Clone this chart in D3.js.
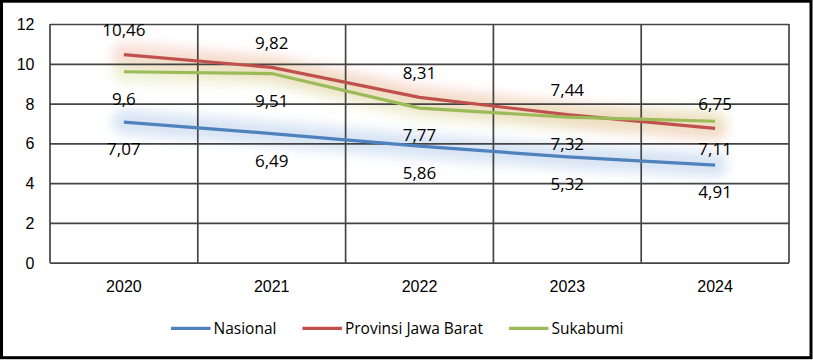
<!DOCTYPE html>
<html>
<head>
<meta charset="utf-8">
<script src="https://cdn.jsdelivr.net/npm/d3@7/dist/d3.min.js"></script>
<style>
  html, body { margin: 0; padding: 0; background: #fff; }
  svg { display: block; font-family: "Open Sans", "Noto Sans", sans-serif; }
</style>
</head>
<body>
<svg id="chart" width="813" height="360"></svg>
<script>
const years = ["2020", "2021", "2022", "2023", "2024"];
const nasional = [7.07, 6.49, 5.86, 5.32, 4.91];
const jawaBarat = [10.46, 9.82, 8.31, 7.44, 6.75];
const sukabumi = [9.6, 9.51, 7.77, 7.32, 7.11];
const seriesNames = ["Nasional", "Provinsi Jawa Barat", "Sukabumi"];
const yTicks = [0, 2, 4, 6, 8, 10, 12];
const valueLabels = {
  "Nasional": ["7,07", "6,49", "5,86", "5,32", "4,91"],
  "Provinsi Jawa Barat": ["10,46", "9,82", "8,31", "7,44", "6,75"],
  "Sukabumi": ["9,6", "9,51", "7,77", "7,32", "7,11"]
};

const series = [
  { name: seriesNames[0], values: nasional, color: "#4f81bd", glow: "#8fb3e0", labelDy: 27.3 },
  { name: seriesNames[1], values: jawaBarat, color: "#c0504d", glow: "#eea08c", labelDy: -24.6 },
  { name: seriesNames[2], values: sukabumi, color: "#9bbb59", glow: "#d8e09a", labelDy: 27.3 }
];

const svg = d3.select("#chart");
const pLeft = 50, pRight = 789, pTop = 24, pBottom = 262.7;

const x = d3.scaleBand().domain(years).range([pLeft, pRight]).padding(0);
const y = d3.scaleLinear().domain([0, 12]).range([pBottom, pTop]);
const cx = d => x(d) + x.bandwidth() / 2;

// outer border
svg.append("rect").attr("x", 1.5).attr("y", 1.2).attr("width", 809.5).attr("height", 356.5)
  .attr("fill", "#fff").attr("stroke", "#000").attr("stroke-width", 3);

// glow filter
const defs = svg.append("defs");
const f = defs.append("filter").attr("id", "glow").attr("x", "-20%").attr("y", "-100%")
  .attr("width", "140%").attr("height", "300%");
f.append("feGaussianBlur").attr("stdDeviation", 6);

const line = d3.line().x((d, i) => cx(years[i])).y(d => y(d)).curve(d3.curveLinear);

// glows
const glowG = svg.append("g");
series.forEach(s => {
  glowG.append("path").datum(s.values).attr("d", line)
    .attr("fill", "none").attr("stroke", s.glow).attr("stroke-width", 24)
    .attr("stroke-linecap", "round").attr("stroke-linejoin", "round")
    .attr("opacity", 0.35).attr("filter", "url(#glow)");
});

// horizontal gridlines via axis
const yAxis = d3.axisLeft(y).tickValues(yTicks).tickSize(-(pRight - pLeft)).tickPadding(16)
  .tickFormat(d3.format("d"));
const yg = svg.append("g").attr("transform", `translate(${pLeft},0)`).call(yAxis);
yg.select(".domain").remove();
yg.selectAll(".tick line").attr("stroke", "#444").attr("stroke-width", 1.7);
yg.selectAll(".tick text").attr("fill", "#000").style("font-size", "16px").attr("x", -15.5).attr("dy", "0.34em");

// vertical gridlines at band boundaries
const bounds = years.map(d => x(d)).concat([pRight]);
svg.append("g").selectAll("line").data(bounds).join("line")
  .attr("x1", d => d).attr("x2", d => d).attr("y1", pTop).attr("y2", pBottom)
  .attr("stroke", "#444").attr("stroke-width", 1.7);

// x axis labels
const xAxis = d3.axisBottom(x).tickSize(0).tickPadding(0);
const xg = svg.append("g").attr("transform", `translate(0,${pBottom})`).call(xAxis);
xg.select(".domain").remove();
xg.selectAll(".tick text").attr("fill", "#000").style("font-size", "16px")
  .attr("dy", null).attr("y", 29.7);

// lines
series.forEach(s => {
  svg.append("path").datum(s.values).attr("d", line)
    .attr("fill", "none").attr("stroke", s.color).attr("stroke-width", 3.2)
    .attr("stroke-linejoin", "round");
});

// data labels
series.forEach(s => {
  svg.append("g").selectAll("text").data(s.values).join("text")
    .attr("x", (d, i) => cx(years[i]))
    .attr("y", d => y(d) + s.labelDy + 6)
    .attr("text-anchor", "middle").style("font-size", "17px").attr("fill", "#000")
    .text((d, i) => valueLabels[s.name][i]);
});

// legend
const legend = svg.append("g").attr("transform", "translate(171,328.3)");
let lx = 0;
series.forEach(s => {
  const g = legend.append("g").attr("transform", `translate(${lx},0)`);
  g.append("line").attr("x1", 0).attr("x2", 39.5).attr("y1", 0).attr("y2", 0)
    .attr("stroke", s.color).attr("stroke-width", 3.2);
  const t = g.append("text").attr("x", 42.5).attr("y", 5.5).style("font-size", "15.5px").attr("fill", "#000").text(s.name);
  lx += 42.5 + t.node().getComputedTextLength() + 26;
});
</script>
</body>
</html>
